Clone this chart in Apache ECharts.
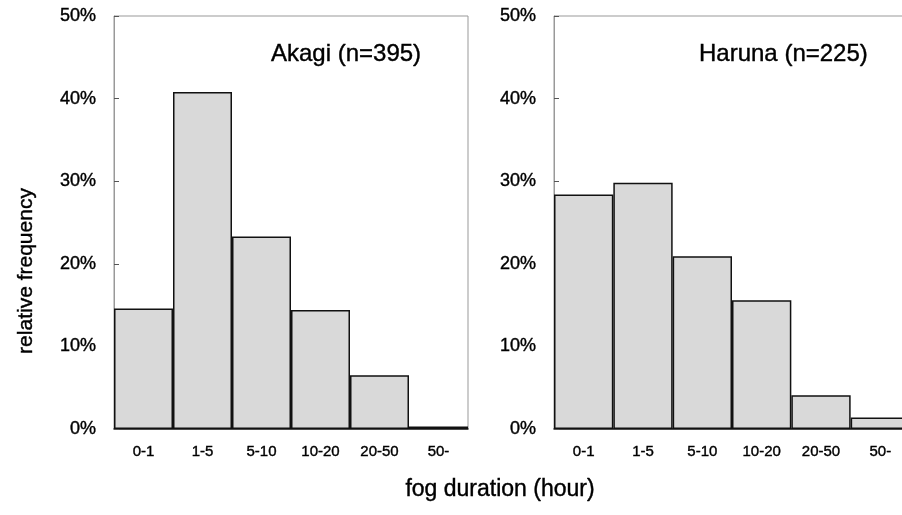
<!DOCTYPE html>
<html>
<head>
<meta charset="utf-8">
<script src="https://cdn.jsdelivr.net/npm/echarts@6/dist/echarts.min.js"></script>
<style>
html,body{margin:0;padding:0;background:#fff;}
#chart{width:902px;height:515px;}
</style>
</head>
<body>
<div id="chart"></div>
<script>
const categories = ['0-1', '1-5', '5-10', '10-20', '20-50', '50-'];
const akagiValues = [14.6, 40.8, 23.3, 14.4, 6.5, 0.3];
const harunaValues = [28.4, 29.8, 20.9, 15.6, 4.1, 1.4];
const panelTitles = ['Akagi (n=395)', 'Haruna (n=225)'];
const yTickMax = 50;
const yTickStep = 10;

const FONT = '"Liberation Sans", Arial, sans-serif';
const chart = echarts.init(document.getElementById('chart'));
const heavy = { textBorderColor: '#000', textBorderWidth: 0.4 };

function xAxis(gi) {
  return {
    type: 'category', gridIndex: gi, data: categories,
    axisLine: { show: true, lineStyle: { color: '#222', width: 1.5 } },
    axisTick: { show: false },
    axisLabel: Object.assign({ color: '#000', fontSize: 15, fontFamily: FONT, margin: 15 }, heavy)
  };
}
function yAxis(gi) {
  return {
    type: 'value', gridIndex: gi, min: 0, max: yTickMax, interval: yTickStep,
    axisLine: { show: true, lineStyle: { color: '#999', width: 1 } },
    axisTick: { show: true, inside: true, length: 5, lineStyle: { color: '#555' } },
    splitLine: { show: false },
    axisLabel: Object.assign({ color: '#000', fontSize: 18, fontFamily: FONT, margin: 18, formatter: '{value}%' }, heavy)
  };
}
function barSeries(idx, data) {
  return {
    type: 'bar', xAxisIndex: idx, yAxisIndex: idx, data: data,
    barCategoryGap: '0%',
    itemStyle: { color: '#d9d9d9', borderColor: '#111', borderWidth: 1.5 },
    silent: true
  };
}

chart.setOption({
  animation: false,
  backgroundColor: '#fff',
  textStyle: { fontFamily: FONT },
  title: [
    { text: panelTitles[0], left: 266, top: 37, textStyle: Object.assign({ fontSize: 24, fontWeight: 'normal', color: '#000', fontFamily: FONT }, heavy) },
    { text: panelTitles[1], left: 694, top: 37, textStyle: Object.assign({ fontSize: 24, fontWeight: 'normal', color: '#000', fontFamily: FONT }, heavy) }
  ],
  grid: [
    { left: 114, top: 16, width: 354, height: 413, show: true, borderColor: '#999', borderWidth: 1, outerBoundsMode: 'none' },
    { left: 554, top: 16, width: 356, height: 413, show: true, borderColor: '#999', borderWidth: 1, outerBoundsMode: 'none' }
  ],
  xAxis: [xAxis(0), xAxis(1)],
  yAxis: [yAxis(0), yAxis(1)],
  series: [barSeries(0, akagiValues), barSeries(1, harunaValues)],
  graphic: [
    { type: 'text', x: 500, y: 490, style: { text: 'fog duration (hour)', fontSize: 23, fontFamily: FONT, fill: '#000', align: 'center', verticalAlign: 'middle', stroke: '#000', lineWidth: 0.4 } },
    { type: 'text', rotation: Math.PI / 2, x: 26, y: 271, style: { text: 'relative frequency', fontSize: 21, fontFamily: FONT, fill: '#000', align: 'center', verticalAlign: 'middle', stroke: '#000', lineWidth: 0.4 } }
  ]
});
</script>
</body>
</html>
